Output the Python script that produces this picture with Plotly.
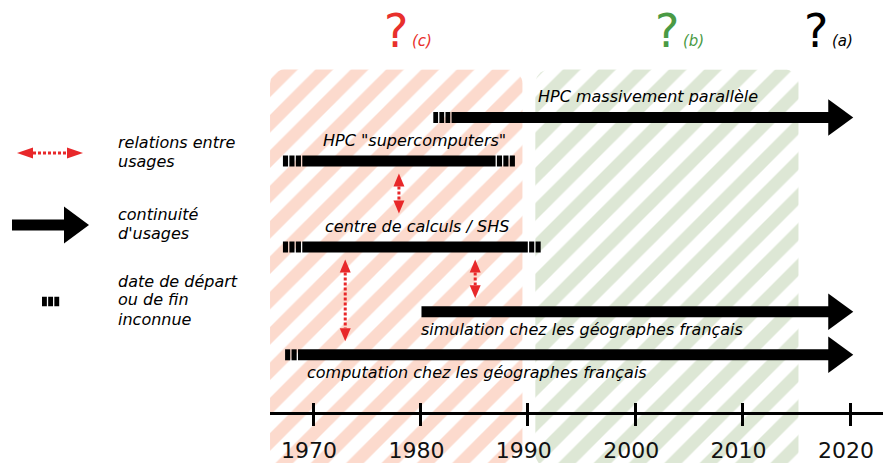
import math
import plotly.graph_objects as go

# ---------------- data ----------------
usages = ["HPC massivement parallèle", 'HPC "supercomputers"', "centre de calculs / SHS",
          "simulation chez les géographes français", "computation chez les géographes français"]
debut_incertain = [1981.2, 1967.2, 1967.2, None, 1967.4]
debut = [1982.9, 1969.0, 1969.0, 1980.1, 1968.6]
fin = [2020.3, 1987.0, 1990.0, 2020.3, 2020.3]
fin_incertain = [None, 1988.8, 1991.2, None, None]
continu = [True, False, False, True, True]
label_annee = [1990.95, 1970.9, 1971.1, 1980.1, 1969.4]
label_dessus = [True, True, True, False, False]

relation_annee = [1978.0, 1973.0, 1985.1]
relation_de = [1, 2, 2]
relation_vers = [2, 4, 3]

periodes = ["(c)", "(b)"]
periode_debut = [1966.0, 1990.7]
periode_fin = [1989.5, 2015.2]
autre_periode = "(a)"
autre_annee = 2016.8

annees_ticks = [1970, 1980, 1990, 2000, 2010, 2020]
ticks_texte = ["1970", "1980", "1990", "2000", "2010", "2020"]

legende_lignes = [["relations entre", "usages"], ["continuité", "d'usages"],
                  ["date de départ", "ou de fin", "inconnue"]]

# ---------------- layout constants ----------------
W, H = 883, 463
X0_PX = 270
X_RANGE = [1965.996, 2023.07]
PXY = (W - X0_PX) / (X_RANGE[1] - X_RANGE[0])
AXIS_Y = 413
row_y = [117.5, 161.0, 247.0, 311.7, 354.8]
legende_baseline = [[147.7, 166.7], [220.0, 239.0], [286.7, 305.5, 325.0]]
BAR_H = 11
HEAD_L, HEAD_HW = 25, 18.3
ROUGE = "#e8282a"
COUL_PERIODE = ["#fcdacd", "#dde7d5"]
COUL_Q = ["#e8302c", "#4a9a44"]
FONT = "DejaVu Sans"
FS = 16


def py(px):  # pixel y -> paper
    return 1 - px / H


def px_x(px):  # pixel x -> paper
    return px / W


fig = go.Figure()
shapes = []
annotations = []

# ---------------- hatched periods ----------------
def rounded(x0, x1, y0, y1, r):
    rx = r / PXY
    xs, ys = [], []
    corners = [(x0 + rx, y0 + r, 180, 270), (x1 - rx, y0 + r, 270, 360),
               (x1 - rx, y1 - r, 0, 90), (x0 + rx, y1 - r, 90, 180)]
    for cx, cy, a0, a1 in corners:
        for k in range(10):
            a = math.radians(a0 + (a1 - a0) * k / 9)
            xs.append(cx + rx * math.cos(a))
            ys.append(cy + r * math.sin(a))
    xs.append(xs[0]); ys.append(ys[0])
    return xs, ys


for i in range(len(periodes)):
    xs, ys = rounded(periode_debut[i], periode_fin[i], 69.5, 468, 14)
    fig.add_trace(go.Scatter(x=xs, y=ys, mode="lines", fill="toself", line=dict(width=0),
                             fillcolor=COUL_PERIODE[i],
                             fillpattern=dict(shape="/", bgcolor=COUL_PERIODE[i], fgcolor="white",
                                              size=25, solidity=0.5, fillmode="replace"),
                             hoverinfo="skip"))
    xc = (periode_debut[i] + periode_fin[i]) / 2
    annotations.append(dict(x=xc, y=30.8, xref="x", yref="y", text="?", showarrow=False,
                            font=dict(family=FONT, size=46, color=COUL_Q[i]), xanchor="center", yanchor="middle"))
    annotations.append(dict(x=xc, y=40.5, xref="x", yref="y", text="<i>%s</i>" % periodes[i], showarrow=False,
                            xshift=14, font=dict(family=FONT, size=15, color=COUL_Q[i]),
                            xanchor="left", yanchor="middle"))

annotations.append(dict(x=autre_annee, y=30.8, xref="x", yref="y", text="?", showarrow=False,
                        font=dict(family=FONT, size=46, color="black"), xanchor="center", yanchor="middle"))
annotations.append(dict(x=autre_annee, y=40.5, xref="x", yref="y", text="<i>%s</i>" % autre_periode,
                        showarrow=False, xshift=14, font=dict(family=FONT, size=15, color="black"),
                        xanchor="left", yanchor="middle"))


# ---------------- bars ----------------
def blocs(a, b, yc, apres_gap, xref="x", conv=lambda v: v, yconv=lambda v: v, h=BAR_H, unit=PXY):
    w_px = (b - a) * unit
    n = max(1, round(w_px / 6.3))
    gap = 1.3
    bw = (w_px - n * gap) / n
    out = []
    for k in range(n):
        s = k * (bw + gap) + (gap if apres_gap else 0)
        out.append(dict(type="rect", xref=xref, yref="y" if xref == "x" else "paper",
                        x0=conv(a + s / unit), x1=conv(a + (s + bw) / unit),
                        y0=yconv(yc - h / 2), y1=yconv(yc + h / 2),
                        fillcolor="black", line=dict(width=0)))
    return out


for i in range(len(usages)):
    yc = row_y[i]
    if debut_incertain[i] is not None:
        shapes += blocs(debut_incertain[i], debut[i], yc, False)
    x_end = fin[i] - (HEAD_L - 1) / PXY if continu[i] else fin[i]
    shapes.append(dict(type="rect", xref="x", yref="y", x0=debut[i], x1=x_end,
                       y0=yc - BAR_H / 2, y1=yc + BAR_H / 2, fillcolor="black", line=dict(width=0)))
    if continu[i]:
        b = fin[i] - HEAD_L / PXY
        shapes.append(dict(type="path", xref="x", yref="y",
                           path="M %f,%f L %f,%f L %f,%f Z" % (b, yc - HEAD_HW, fin[i], yc, b, yc + HEAD_HW),
                           fillcolor="black", line=dict(width=0)))
    if fin_incertain[i] is not None:
        shapes += blocs(fin[i], fin_incertain[i], yc, True)
    ly = yc - 21 if label_dessus[i] else yc + 17.3
    annotations.append(dict(x=label_annee[i], y=ly, xref="x", yref="y", text="<i>%s</i>" % usages[i],
                            showarrow=False, xanchor="left", yanchor="middle",
                            font=dict(family=FONT, size=FS, color="black"), xshift=-2))

# ---------------- relations (red dotted double arrows) ----------------
RH_L, RH_HW = 13, 5.5
for k in range(len(relation_annee)):
    x = relation_annee[k]
    y0 = row_y[relation_de[k]] + BAR_H / 2 + 7
    y1 = row_y[relation_vers[k]] - BAR_H / 2 - (28 if label_dessus[relation_vers[k]] else 8)
    dx = RH_HW / PXY
    shapes.append(dict(type="line", xref="x", yref="y", x0=x, x1=x, y0=y0 + RH_L, y1=y1 - RH_L,
                       line=dict(color=ROUGE, width=3, dash="3px,2px")))
    shapes.append(dict(type="path", xref="x", yref="y",
                       path="M %f,%f L %f,%f L %f,%f Z" % (x - dx, y0 + RH_L, x, y0, x + dx, y0 + RH_L),
                       fillcolor=ROUGE, line=dict(width=0)))
    shapes.append(dict(type="path", xref="x", yref="y",
                       path="M %f,%f L %f,%f L %f,%f Z" % (x - dx, y1 - RH_L, x, y1, x + dx, y1 - RH_L),
                       fillcolor=ROUGE, line=dict(width=0)))

# ---------------- legend (paper coordinates) ----------------
ly = 153
shapes.append(dict(type="line", xref="paper", yref="paper", x0=px_x(33), x1=px_x(67), y0=py(ly), y1=py(ly),
                   line=dict(color=ROUGE, width=3, dash="3px,2px")))
shapes.append(dict(type="path", xref="paper", yref="paper",
                   path="M %f,%f L %f,%f L %f,%f Z" % (px_x(33), py(ly - RH_HW), px_x(17), py(ly), px_x(33), py(ly + RH_HW)),
                   fillcolor=ROUGE, line=dict(width=0)))
shapes.append(dict(type="path", xref="paper", yref="paper",
                   path="M %f,%f L %f,%f L %f,%f Z" % (px_x(67), py(ly - RH_HW), px_x(83), py(ly), px_x(67), py(ly + RH_HW)),
                   fillcolor=ROUGE, line=dict(width=0)))
ly = 225
shapes.append(dict(type="rect", xref="paper", yref="paper", x0=px_x(12), x1=px_x(65), y0=py(ly - 5.5), y1=py(ly + 5.5),
                   fillcolor="black", line=dict(width=0)))
shapes.append(dict(type="path", xref="paper", yref="paper",
                   path="M %f,%f L %f,%f L %f,%f Z" % (px_x(64), py(ly - 18.5), px_x(89), py(ly), px_x(64), py(ly + 18.5)),
                   fillcolor="black", line=dict(width=0)))
shapes += blocs(42, 60.5, 301.5, False, xref="paper", conv=px_x, yconv=py, h=9.5, unit=1)

for lignes, bases in zip(legende_lignes, legende_baseline):
    for t, b in zip(lignes, bases):
        annotations.append(dict(x=px_x(116), y=py(b - 0.346 * FS), xref="paper", yref="paper",
                                text="<i>%s</i>" % t, showarrow=False, xanchor="left", yanchor="middle",
                                font=dict(family=FONT, size=FS, color="black")))

fig.add_trace(go.Scatter(x=[2000], y=[600], xaxis="x2", yaxis="y", mode="markers",
                         marker=dict(opacity=0), hoverinfo="skip"))

pos = 1 - AXIS_Y / H
fig.update_layout(
    width=W, height=H, margin=dict(l=0, r=0, t=0, b=0), showlegend=False,
    paper_bgcolor="white", plot_bgcolor="rgba(0,0,0,0)",
    xaxis=dict(domain=[X0_PX / W, 1], range=X_RANGE, anchor="free", position=pos,
               showline=True, linecolor="black", linewidth=2.5, ticks="outside", ticklen=11,
               tickwidth=3, tickcolor="black", tickvals=annees_ticks, ticktext=ticks_texte,
               tickfont=dict(family=FONT, size=22, color="#111"), showgrid=False, zeroline=False,
               ticklabelstandoff=6, ticklabelshift=-4),
    xaxis2=dict(domain=[X0_PX / W, 1], range=X_RANGE, anchor="free", position=pos, overlaying="x",
                showline=False, ticks="inside", ticklen=10, tickwidth=3, tickcolor="black",
                tickvals=annees_ticks, showticklabels=False, showgrid=False, zeroline=False),
    yaxis=dict(domain=[0, 1], range=[H, 0], visible=False, showgrid=False, zeroline=False),
    shapes=shapes, annotations=annotations,
)

fig.write_html("out.html", config={"displayModeBar": False},
               post_script="document.body.style.margin='0px';")
